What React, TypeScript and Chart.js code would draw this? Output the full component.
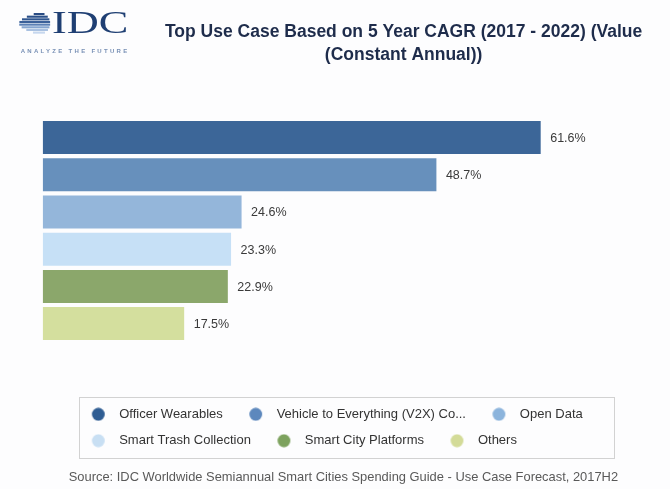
import React, { useEffect, useRef } from "react";
import { Chart, registerables } from "chart.js";

Chart.register(...registerables);

// ---- data ----
const categories = [
  "Officer Wearables",
  "Vehicle to Everything (V2X) Co...",
  "Open Data",
  "Smart Trash Collection",
  "Smart City Platforms",
  "Others",
];
const cagrValues = [61.6, 48.7, 24.6, 23.3, 22.9, 17.5];
const titleLines = [
  "Top Use Case Based on 5 Year CAGR (2017 - 2022) (Value",
  "(Constant Annual))",
];
const sourceText =
  "Source: IDC Worldwide Semiannual Smart Cities Spending Guide - Use Case Forecast, 2017H2";
const logoWord = "IDC";
const logoTagline = "ANALYZE THE FUTURE";

// ---- styles ----
const barColors = ["#3c6698", "#6790bc", "#94b6da", "#c6e0f6", "#8ba76b", "#d4df9e"];
const legendColors = ["#2f5d93", "#5d88bd", "#8cb4dc", "#c8dff3", "#7da25e", "#d3db98"];
const FONT = '"Liberation Sans", Arial, Helvetica, sans-serif';
Chart.defaults.font.family = FONT;

function makeDot(color: string) {
  const c = document.createElement("canvas");
  c.width = 34;
  c.height = 14;
  const g = c.getContext("2d")!;
  g.fillStyle = color;
  g.beginPath();
  g.arc(19.6, 7, 6.4, 0, Math.PI * 2);
  g.fill();
  return c;
}

const placePlugin = {
  id: "placeBoxes",
  afterLayout(chart: any) {
    const t = chart.titleBlock;
    if (t) {
      t.left = 103.6;
      t.right = 703.6;
      t.width = 600;
      t.top = 20.8;
      t.bottom = t.top + 45.5;
    }
    const l = chart.legend;
    if (l) {
      l.left = 65.3;
      l.right = 654;
      l.width = l.right - l.left;
      l.top = 394.4;
      l.bottom = 458;
      l.height = l.bottom - l.top;
    }
    const s = chart.boxes.find(
      (b: any) => b !== t && b !== l && b.options && b.options.text === sourceText
    );
    if (s) {
      s.left = 43.4;
      s.right = 643.4;
      s.width = 600;
      s.top = 470.2;
      s.bottom = s.top + 15.6;
    }
  },
};

const legendFramePlugin = {
  id: "legendFrame",
  afterDraw(chart: any) {
    const ctx = chart.ctx;
    ctx.save();
    ctx.strokeStyle = "#d2d2d2";
    ctx.lineWidth = 1;
    ctx.strokeRect(79.5, 397.5, 535, 61);
    ctx.restore();
  },
};

const valueLabelPlugin = {
  id: "valueLabels",
  afterDatasetsDraw(chart: any) {
    const ctx = chart.ctx;
    const meta = chart.getDatasetMeta(0);
    ctx.save();
    ctx.font = `12.5px ${FONT}`;
    ctx.fillStyle = "#3a3a3a";
    ctx.textAlign = "left";
    ctx.textBaseline = "middle";
    meta.data.forEach((bar: any, i: number) => {
      ctx.fillText(cagrValues[i].toFixed(1) + "%", bar.x + 9.5, bar.y + 1);
    });
    ctx.restore();
  },
};

function Globe() {
  const rowColors = [
    "#2a4c84",
    "#2b5089",
    "#30568f",
    "#3b6199",
    "#5b80b5",
    "#86a6d0",
    "#a9c1e1",
    "#c6d7ee",
  ];
  const cx = 20.6;
  const cy = 10.5;
  const r = 10.6;
  return (
    <svg width={32} height={22} style={{ position: "absolute", left: 19, top: 12.5 }}>
      {rowColors.map((col, i) => {
        const yTop = 0 + i * 2.65;
        const dy = yTop + 1.1 - cy;
        const w = Math.sqrt(Math.max(r * r - dy * dy, 0));
        const ext = 10 * Math.pow(w / r, 3);
        const left = Math.max(cx - w - ext, 0);
        return <rect key={i} x={left} y={yTop} width={cx + w - left} height={2.1} fill={col} />;
      })}
    </svg>
  );
}

export default function App() {
  const ref = useRef<HTMLCanvasElement>(null);

  useEffect(() => {
    const dots = legendColors.map(makeDot);
    const chart = new Chart(ref.current as HTMLCanvasElement, {
      type: "bar",
      data: {
        labels: categories,
        datasets: [
          {
            data: cagrValues,
            backgroundColor: barColors,
            borderWidth: 0,
            categoryPercentage: 1,
            barPercentage: 0.887,
          },
        ],
      },
      options: {
        indexAxis: "y",
        responsive: true,
        maintainAspectRatio: false,
        animation: false,
        events: [],
        layout: { padding: { top: 73.4, bottom: 68.5, left: 42.7, right: 61.4 } },
        scales: {
          x: { display: false, min: 0, max: 70, grid: { display: false } },
          y: { display: false, grid: { display: false } },
        },
        plugins: {
          title: {
            display: true,
            text: titleLines,
            color: "#1e2c4b",
            font: { size: 17.5, weight: "bold", lineHeight: 1.3 },
            padding: 0,
          },
          subtitle: {
            display: true,
            position: "bottom",
            text: sourceText,
            color: "#595959",
            font: { size: 12.9, lineHeight: 1.2 },
            padding: 0,
          },
          legend: {
            display: true,
            position: "bottom",
            align: "start",
            labels: {
              usePointStyle: true,
              pointStyleWidth: 34,
              boxHeight: 13,
              padding: 13.4,
              font: { size: 13 },
              color: "#333333",
              generateLabels: () =>
                categories.map((c, i) => ({
                  text: c,
                  fillStyle: legendColors[i],
                  strokeStyle: legendColors[i],
                  lineWidth: 0,
                  pointStyle: dots[i],
                  hidden: false,
                  index: i,
                  fontColor: "#333333",
                })),
            },
          },
          tooltip: { enabled: false },
        },
      } as any,
      plugins: [placePlugin, valueLabelPlugin, legendFramePlugin],
    });
    return () => chart.destroy();
  }, []);

  return (
    <div
      style={{
        position: "fixed",
        left: 0,
        top: 0,
        width: 670,
        height: 489,
        background: "#fdfdfe",
        overflow: "hidden",
      }}
    >
      <canvas ref={ref} />
      <Globe />
      <div
        style={{
          position: "absolute",
          left: 51.7,
          top: 7.3,
          fontFamily: '"Liberation Serif", "Times New Roman", serif',
          fontSize: 31,
          lineHeight: "31px",
          color: "#1f3f73",
          transform: "scaleX(1.43)",
          transformOrigin: "left top",
          whiteSpace: "nowrap",
        }}
      >
        {logoWord}
      </div>
      <div
        style={{
          position: "absolute",
          left: 20.7,
          top: 48.2,
          fontFamily: FONT,
          fontWeight: "bold",
          fontSize: 6,
          lineHeight: "6px",
          letterSpacing: 2.3,
          color: "#7890b5",
          whiteSpace: "nowrap",
        }}
      >
        {logoTagline}
      </div>
    </div>
  );
}
